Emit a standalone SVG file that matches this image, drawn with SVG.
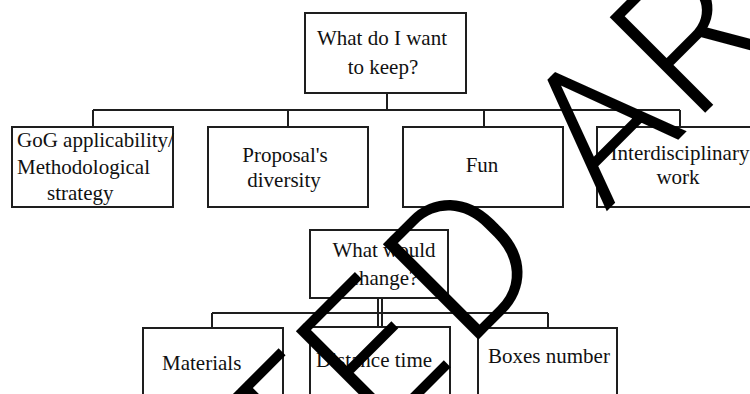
<svg xmlns="http://www.w3.org/2000/svg" width="750" height="394" viewBox="0 0 750 394">
<style>
.box{fill:#fff;stroke:#1e1e1e;stroke-width:2}
.con{fill:none;stroke:#1e1e1e;stroke-width:2}
.t{font-family:"Liberation Serif","Times New Roman",serif;font-size:21px;fill:#111}
.m{text-anchor:middle}
.wm{font-family:Roboto,"Liberation Sans",sans-serif;font-weight:300;font-size:190px;fill:#000}
</style>
<rect width="750" height="394" fill="#fff"/>
<g id="connectors">
<path class="con" d="M387 93V110M93 110H680M93 110V127M288 110V127M484 110V127M680 110V127"/>
<path class="con" d="M378 298V328M382 298V328M212 313H548M212 313V328M548 313V328"/>
</g>
<g id="keep">
<rect class="box" x="305" y="13" width="161" height="80"/>
<text class="t m" x="382" y="45">What do I want</text>
<text class="t m" x="383" y="74">to keep?</text>
</g>
<g id="gog">
<rect class="box" x="12" y="127" width="161" height="80"/>
<text class="t" x="17" y="147">GoG applicability/</text>
<text class="t" x="17" y="174">Methodological</text>
<text class="t" x="47" y="200">strategy</text>
</g>
<g id="proposals">
<rect class="box" x="208" y="127" width="160" height="80"/>
<text class="t m" x="285" y="162">Proposal's</text>
<text class="t m" x="284" y="187">diversity</text>
</g>
<g id="fun">
<rect class="box" x="403" y="127" width="160" height="80"/>
<text class="t m" x="482" y="172">Fun</text>
</g>
<g id="interdisciplinary">
<rect class="box" x="597" y="127" width="161" height="80"/>
<text class="t m" x="680" y="160">Interdisciplinary</text>
<text class="t m" x="678" y="184">work</text>
</g>
<g id="change">
<rect class="box" x="310" y="230" width="138" height="68"/>
<text class="t m" x="384" y="257">What would</text>
<text class="t m" x="384" y="285">change?</text>
</g>
<g id="materials">
<rect class="box" x="143" y="328" width="140" height="80"/>
<text class="t" x="162" y="370">Materials</text>
</g>
<g id="distance">
<rect class="box" x="310" y="327" width="140" height="80"/>
<text class="t" x="316" y="367">Distance time</text>
</g>
<g id="boxes">
<rect class="box" x="478" y="328" width="139" height="80"/>
<text class="t" x="488" y="363">Boxes number</text>
</g>
<g id="watermark" transform="translate(409,409) rotate(-45)">
<text class="wm" x="-158 -42 81 215 277 402" y="0">TED AR</text>
</g>
</svg>
